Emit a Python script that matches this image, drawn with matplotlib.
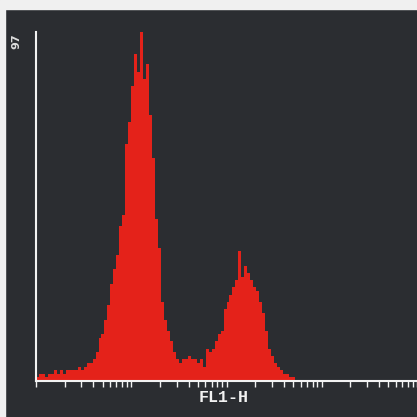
import numpy as np
import matplotlib
matplotlib.use('Agg')
import matplotlib.pyplot as plt
from matplotlib.patches import Rectangle
from matplotlib.ticker import LogLocator, NullFormatter

# FL1-H histogram, log channels 10^0 .. 10^4 (128 bins, only occupied ones listed)
counts = [
    1, 2, 2, 1, 2, 2, 3, 2, 3, 2, 3, 3, 3, 3, 4, 3, 4,
    5, 5, 6, 8, 12, 13, 17, 21, 27, 31, 35,
    43, 46, 66, 72, 82, 91, 86, 97, 84, 88, 74, 62, 45, 37, 22, 17, 14,
    11, 8,
    6, 5, 6, 6, 7, 6, 6, 5, 6,
    4, 9, 8, 9, 11, 13, 14, 20, 22, 24, 26, 28,
    36, 29, 32, 30, 28, 26, 25, 22, 19,
    14, 9, 7, 5, 4, 3, 2, 2, 1, 1,
]
n_bins = 128
y_max = 97
x_label = 'FL1-H'

bg = '#2b2d31'
red = '#e4221a'
fg = '#f2f2f2'

edges = np.logspace(0, 4, n_bins + 1)[:len(counts) + 1]

W = 417
fig = plt.figure(figsize=(W / 100, W / 100), dpi=100)
fig.patch.set_facecolor(bg)

ax = fig.add_axes([36 / W, 36 / W, 381 / W, 349 / W])
ax.set_facecolor(bg)
ax.stairs(counts, edges, fill=True, color=red, linewidth=0)

ax.set_xscale('log')
ax.set_xlim(1, 1e4)
ax.set_ylim(0, y_max)

for side in ('top', 'right'):
    ax.spines[side].set_visible(False)
for side in ('left', 'bottom'):
    ax.spines[side].set_color(fg)
    ax.spines[side].set_linewidth(1.5)

ax.xaxis.set_major_locator(LogLocator(base=10, numticks=10))
ax.xaxis.set_minor_locator(LogLocator(base=10, subs=np.arange(2, 10), numticks=20))
ax.xaxis.set_major_formatter(NullFormatter())
ax.xaxis.set_minor_formatter(NullFormatter())
ax.tick_params(axis='x', which='both', direction='out', length=4, width=1, colors=fg)
ax.set_yticks([])

fig.text(16 / W, 1 - 41 / W, str(y_max), rotation=90, ha='center', va='center',
         color='#dddddd', fontsize=8, fontweight='bold')
fig.text(224 / W, 1 - 398 / W, x_label, ha='center', va='center', color=fg,
         fontsize=12, fontweight='bold', family='Liberation Mono')

# light crop border on the top and left edges
fig.add_artist(Rectangle((0, 1 - 9 / W), 1, 9 / W, transform=fig.transFigure,
                         color='#f0f0f0', zorder=10))
fig.add_artist(Rectangle((0, 0), 5 / W, 1, transform=fig.transFigure,
                         color='#f0f0f0', zorder=10))

fig.savefig('out.png', dpi=100, facecolor=bg)
